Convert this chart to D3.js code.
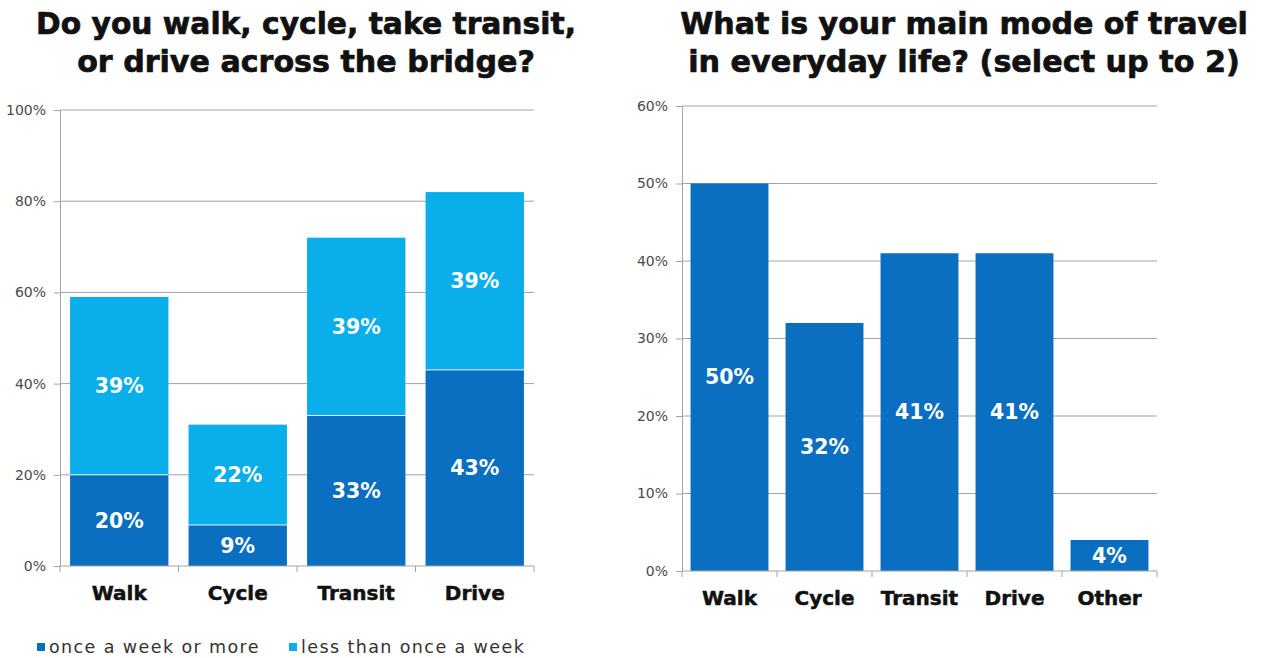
<!DOCTYPE html>
<html>
<head>
<meta charset="utf-8">
<script src="https://cdn.jsdelivr.net/npm/d3@7"></script>
<style>
  html, body { margin: 0; padding: 0; background: #fff; }
  svg { display: block; }
  text { font-family: "DejaVu Sans", sans-serif; }
</style>
</head>
<body>
<svg id="chart" width="1267" height="658"></svg>
<script>
// Left chart: frequency of crossing the bridge, by mode (stacked)
const crossModes = ["Walk", "Cycle", "Transit", "Drive"];
const weeklyOrMore = [20, 9, 33, 43];
const lessThanWeekly = [39, 22, 39, 39];
const crossSeries = ["once a week or more", "less than once a week"];
const crossTicks = [0, 20, 40, 60, 80, 100];

// Right chart: main everyday travel mode (select up to 2)
const mainModes = ["Walk", "Cycle", "Transit", "Drive", "Other"];
const mainShare = [50, 32, 41, 41, 4];
const mainTicks = [0, 10, 20, 30, 40, 50, 60];

const titleLeft = ["Do you walk, cycle, take transit,", "or drive across the bridge?"];
const titleRight = ["What is your main mode of travel", "in everyday life? (select up to 2)"];

const DARK = "#0a6fc0";
const LIGHT = "#0aaeea";
const GRID = "#a3a3a3";
const svg = d3.select("#chart");

// Two-line bold heading, each line fitted to a given width
function drawTitle(lines, cx, targetW) {
  const g = svg.append("g");
  lines.forEach((t, i) => {
    const el = g.append("text")
      .attr("x", cx).attr("y", 34 + i * 38)
      .attr("text-anchor", "middle")
      .attr("font-weight", "bold")
      .attr("font-size", 30)
      .attr("fill", "#111")
      .attr("stroke", "#111").attr("stroke-width", 0.7)
      .text(t);
    const w = el.node().getComputedTextLength();
    el.attr("font-size", 30 * targetW[i] / w);
  });
}

// Gridlines and y axis
function frame(y, ticks, x0, x1) {
  const g = svg.append("g");
  g.selectAll("line.grid").data(ticks.filter(t => t > 0)).join("line")
    .attr("x1", x0).attr("x2", x1)
    .attr("y1", d => y(d)).attr("y2", d => y(d))
    .attr("stroke", GRID).attr("stroke-width", 1);
  const ya = d3.axisLeft(y).tickValues(ticks).tickFormat(d => d + "%").tickSize(6).tickPadding(8);
  const gy = svg.append("g").attr("transform", `translate(${x0},0)`).call(ya);
  gy.select(".domain").attr("stroke", GRID);
  gy.selectAll(".tick line").attr("stroke", GRID);
  gy.selectAll(".tick text").attr("font-size", 14).attr("fill", "#4a4a4a")
    .attr("font-family", "DejaVu Sans, sans-serif");
  return g;
}

// Category axis line with ticks at band boundaries
function baseline(y, x0, x1, bounds) {
  const g = svg.append("g");
  g.append("line").attr("x1", x0).attr("x2", x1).attr("y1", y(0)).attr("y2", y(0))
    .attr("stroke", GRID).attr("stroke-width", 1);
  g.selectAll("line.bt").data(bounds).join("line")
    .attr("x1", d => d).attr("x2", d => d)
    .attr("y1", y(0)).attr("y2", y(0) + 6)
    .attr("stroke", GRID);
}

function catLabels(x, cats, yPos) {
  svg.append("g").selectAll("text").data(cats).join("text")
    .attr("x", d => x(d) + x.bandwidth() / 2)
    .attr("y", yPos)
    .attr("text-anchor", "middle")
    .attr("font-weight", "bold")
    .attr("font-size", 20)
    .attr("fill", "#111")
    .attr("stroke", "#111").attr("stroke-width", 0.5)
    .text(d => d);
}

function valueLabel(g, x, y, text) {
  g.append("text")
    .attr("x", x).attr("y", y)
    .attr("dy", "0.35em")
    .attr("text-anchor", "middle")
    .attr("font-weight", "bold")
    .attr("font-size", 20.5)
    .attr("fill", "#fff")
    .text(text);
}

// ---------- Left chart ----------
{
  const x0 = 60, x1 = 534;
  const x = d3.scaleBand().domain(crossModes).range([x0, x1]).paddingInner(0.17).paddingOuter(0.085);
  const y = d3.scaleLinear().domain([0, 100]).range([566, 110]);
  drawTitle(titleLeft, 306, [540, 458]);
  frame(y, crossTicks, x0, x1);

  const rows = crossModes.map((m, i) => ({ mode: m, weekly: weeklyOrMore[i], less: lessThanWeekly[i] }));
  const stack = d3.stack().keys(["weekly", "less"])(rows);
  const colors = [DARK, LIGHT];
  const gBars = svg.append("g");
  stack.forEach((layer, li) => {
    gBars.selectAll(null).data(layer).join("rect")
      .attr("x", d => x(d.data.mode))
      .attr("width", x.bandwidth())
      .attr("y", d => y(d[1]))
      .attr("height", d => y(d[0]) - y(d[1]))
      .attr("fill", colors[li]);
  });
  // thin pale separator between stacked segments
  gBars.selectAll(null).data(rows).join("line")
    .attr("x1", d => x(d.mode)).attr("x2", d => x(d.mode) + x.bandwidth())
    .attr("y1", d => y(d.weekly)).attr("y2", d => y(d.weekly))
    .attr("stroke", "#e8f4fc").attr("stroke-width", 1);
  stack.forEach(layer => {
    layer.forEach(d => valueLabel(gBars, x(d.data.mode) + x.bandwidth() / 2, (y(d[0]) + y(d[1])) / 2, (d[1] - d[0]) + "%"));
  });

  const step = x.step();
  baseline(y, x0, x1, d3.range(crossModes.length + 1).map(i => x0 + i * step));
  catLabels(x, crossModes, 600);

  // legend
  const lg = svg.append("g");
  const items = [{ label: crossSeries[0], c: DARK, x: 37 }, { label: crossSeries[1], c: LIGHT, x: 289 }];
  items.forEach(it => {
    lg.append("rect").attr("x", it.x).attr("y", 643).attr("width", 8).attr("height", 8).attr("fill", it.c);
    lg.append("text").attr("x", it.x + 12).attr("y", 653)
      .attr("font-size", 17.5).attr("letter-spacing", 1.4).attr("fill", "#333").text(it.label);
  });
}

// ---------- Right chart ----------
{
  const x0 = 682, x1 = 1157;
  const x = d3.scaleBand().domain(mainModes).range([x0, x1]).paddingInner(0.18).paddingOuter(0.09);
  const y = d3.scaleLinear().domain([0, 60]).range([571, 106]);
  drawTitle(titleRight, 964, [568, 552]);
  frame(y, mainTicks, x0, x1);
  const gBars = svg.append("g");
  const data = mainModes.map((m, i) => ({ mode: m, v: mainShare[i] }));
  gBars.selectAll(null).data(data).join("rect")
    .attr("x", d => x(d.mode)).attr("width", x.bandwidth())
    .attr("y", d => y(d.v)).attr("height", d => y(0) - y(d.v))
    .attr("fill", DARK);
  data.forEach(d => valueLabel(gBars, x(d.mode) + x.bandwidth() / 2, (y(0) + y(d.v)) / 2, d.v + "%"));
  const step = x.step();
  baseline(y, x0, x1, d3.range(mainModes.length + 1).map(i => x0 + i * step));
  catLabels(x, mainModes, 605);
}
</script>
</body>
</html>
